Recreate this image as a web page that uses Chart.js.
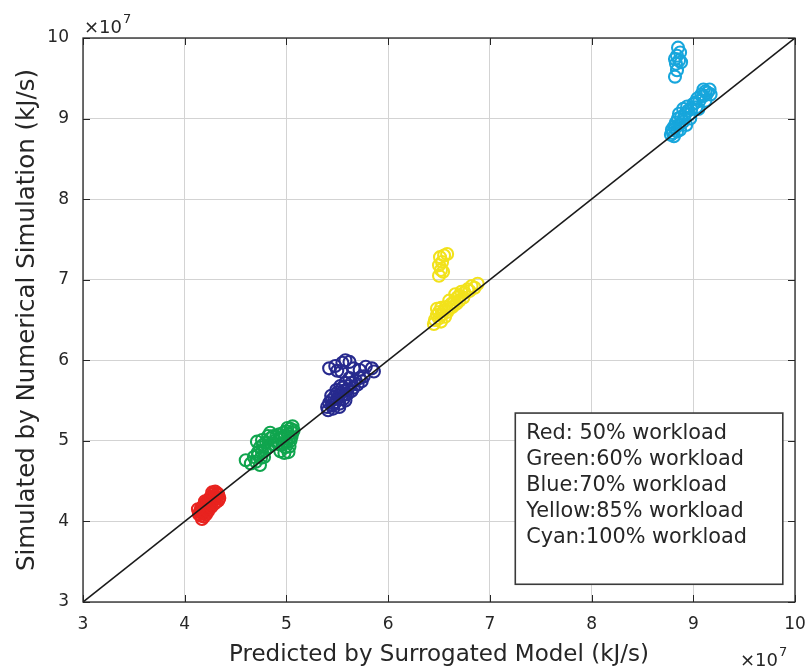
<!DOCTYPE html>
<html>
<head>
<meta charset="utf-8">
<script src="https://cdn.jsdelivr.net/npm/chart.js@4.4.1/dist/chart.umd.min.js"></script>
<style>
  html, body { margin: 0; padding: 0; background: #ffffff; }
  #wrap { width: 809px; height: 671px; }
</style>
</head>
<body>
<div id="wrap"><canvas id="c" width="809" height="671"></canvas></div>
<script>
// Values are in units of 10^7 kJ/s: [predicted, simulated]
const redPoints = [
  [4.16,4.07],[4.17,4.10],[4.15,4.12],[4.18,4.14],[4.16,4.16],[4.19,4.12],[4.20,4.17],[4.18,4.19],
  [4.21,4.15],[4.22,4.20],[4.20,4.22],[4.23,4.18],[4.24,4.23],[4.22,4.25],[4.25,4.21],[4.26,4.26],
  [4.24,4.28],[4.27,4.24],[4.28,4.29],[4.26,4.31],[4.29,4.27],[4.30,4.32],[4.28,4.34],[4.31,4.30],
  [4.32,4.35],[4.30,4.37],[4.33,4.33],[4.31,4.24],[4.33,4.26],[4.29,4.22],[4.19,4.06],[4.21,4.09],
  [4.14,4.09],[4.17,4.03],[4.23,4.13],[4.26,4.18],[4.34,4.29],[4.27,4.36],[4.13,4.15],[4.20,4.25]
];
const greenPoints = [
  [4.60,4.76],[4.65,4.72],[4.70,4.74],[4.68,4.80],[4.72,4.86],[4.75,4.79],[4.74,4.70],
  [4.71,4.99],[4.74,4.92],[4.77,4.95],[4.76,5.01],[4.80,4.98],[4.82,4.92],[4.84,5.03],
  [4.84,5.10],[4.87,5.06],[4.82,5.06],[4.89,5.00],[4.79,4.88],[4.72,4.82],[4.76,4.86],
  [4.94,4.87],[4.98,4.85],[5.02,4.86],[4.96,4.95],[5.00,4.98],[5.04,5.00],[4.98,5.05],
  [5.02,5.08],[5.06,5.10],[5.00,5.12],[5.04,5.15],[5.06,5.18],[4.95,5.02],[5.05,5.05],
  [4.92,4.96],[5.01,5.16],[4.97,5.10],[4.93,5.08],[5.03,4.93],[4.99,4.92],[4.90,5.05],
  [4.86,4.96],[4.78,4.80],[5.07,5.13],[5.02,5.02]
];
const bluePoints = [
  [5.42,5.90],[5.48,5.93],[5.50,5.87],[5.55,5.97],[5.58,6.00],[5.62,5.98],[5.54,5.86],
  [5.66,5.90],[5.72,5.88],[5.78,5.92],[5.84,5.90],[5.86,5.86],
  [5.40,5.42],[5.42,5.47],[5.45,5.44],[5.44,5.50],[5.48,5.48],[5.47,5.54],[5.50,5.52],
  [5.52,5.57],[5.50,5.60],[5.54,5.55],[5.56,5.62],[5.58,5.58],[5.55,5.66],[5.60,5.64],
  [5.62,5.68],[5.58,5.72],[5.64,5.72],[5.66,5.66],[5.68,5.75],[5.70,5.70],[5.72,5.78],
  [5.74,5.74],[5.76,5.80],[5.62,5.78],[5.46,5.40],[5.52,5.46],[5.58,5.50],
  [5.41,5.38],[5.44,5.56],[5.49,5.63],[5.53,5.68],[5.56,5.52],[5.60,5.58],[5.64,5.62],
  [5.52,5.42],[5.47,5.46]
];
const yellowPoints = [
  [6.50,7.05],[6.52,7.12],[6.50,7.18],[6.53,7.22],[6.51,7.28],[6.55,7.30],[6.58,7.32],[6.54,7.10],
  [6.46,6.50],[6.48,6.56],[6.50,6.52],[6.50,6.60],[6.53,6.57],[6.55,6.62],[6.52,6.65],
  [6.57,6.66],[6.60,6.64],[6.62,6.70],[6.60,6.74],[6.65,6.72],[6.68,6.78],[6.66,6.82],
  [6.70,6.80],[6.72,6.85],[6.75,6.84],[6.78,6.88],[6.80,6.86],[6.82,6.92],[6.85,6.90],
  [6.88,6.95],[6.70,6.74],[6.56,6.54],[6.48,6.64],[6.45,6.45],[6.52,6.48],[6.58,6.60],
  [6.63,6.66],[6.67,6.70],[6.74,6.78]
];
const cyanPoints = [
  [8.82,9.52],[8.84,9.60],[8.83,9.68],[8.86,9.72],[8.84,9.78],[8.87,9.82],[8.85,9.88],[8.82,9.74],[8.88,9.70],
  [8.80,8.82],[8.82,8.88],[8.84,8.84],[8.83,8.95],[8.86,8.92],[8.85,9.00],[8.88,9.02],[8.90,8.96],
  [8.92,9.06],[8.95,9.10],[8.94,9.15],[8.98,9.12],[9.00,9.18],[9.02,9.20],[9.04,9.25],[9.06,9.22],
  [9.08,9.30],[9.10,9.28],[9.12,9.34],[9.14,9.32],[9.10,9.36],[8.96,9.05],[8.81,8.90],
  [8.78,8.80],[8.81,8.78],[8.87,8.86],[8.91,9.02],[9.16,9.36],[9.17,9.30],[9.03,9.14],[8.79,8.86],
  [8.86,9.06],[8.90,9.12],[8.97,9.00],[9.05,9.12],[9.12,9.22],[8.93,8.92]
];
const identityLine = [[3,3],[10,10]];
const axisTicks = [3,4,5,6,7,8,9,10];
const legendLines = [
  'Red: 50% workload',
  'Green:60% workload',
  'Blue:70% workload',
  'Yellow:85% workload',
  'Cyan:100% workload'
];
const xTitle = 'Predicted by Surrogated Model (kJ/s)';
const yTitle = 'Simulated by Numerical Simulation (kJ/s)';

const FONT = '"DejaVu Sans", "Liberation Sans", sans-serif';
const TEXT = '#262626';

const toXY = arr => arr.map(p => ({x: p[0], y: p[1]}));

function scatterSet(label, pts, color) {
  return {
    type: 'scatter', label, data: toXY(pts),
    borderColor: color, backgroundColor: 'rgba(0,0,0,0)',
    pointStyle: 'circle', pointRadius: 6, pointBorderWidth: 2.1,
    pointHoverRadius: 6
  };
}

// Box outline, inward tick marks, exponent labels and the text legend
const decorations = {
  id: 'decorations',
  afterDraw(chart) {
    const {ctx, chartArea: a, scales} = chart;
    ctx.save();
    // inward tick marks
    ctx.strokeStyle = '#262626';
    ctx.lineWidth = 1;
    axisTicks.forEach(v => {
      const px = Math.round(scales.x.getPixelForValue(v)) + 0.5;
      ctx.beginPath(); ctx.moveTo(px, a.bottom); ctx.lineTo(px, a.bottom - 7); ctx.stroke();
      ctx.beginPath(); ctx.moveTo(px, a.top); ctx.lineTo(px, a.top + 7); ctx.stroke();
      const py = Math.round(scales.y.getPixelForValue(v)) + 0.5;
      ctx.beginPath(); ctx.moveTo(a.left, py); ctx.lineTo(a.left + 7, py); ctx.stroke();
      ctx.beginPath(); ctx.moveTo(a.right, py); ctx.lineTo(a.right - 7, py); ctx.stroke();
    });
    // box
    ctx.strokeStyle = '#262626';
    ctx.lineWidth = 1.3;
    ctx.strokeRect(a.left, a.top, a.right - a.left, a.bottom - a.top);

    // exponent labels
    ctx.fillStyle = TEXT;
    ctx.textBaseline = 'alphabetic';
    ctx.textAlign = 'left';
    const expLabel = (x, y) => {
      ctx.font = '18px ' + FONT;
      ctx.fillText('\u00d710', x, y);
      const w = ctx.measureText('\u00d710').width;
      ctx.font = '13px ' + FONT;
      ctx.fillText('7', x + w + 1, y - 10);
    };
    expLabel(a.left + 1, a.top - 5);
    expLabel(a.right - 55, 666);

    // legend box
    const bx = scales.x.getPixelForValue(7.25), bxr = scales.x.getPixelForValue(9.88);
    const by = scales.y.getPixelForValue(5.345), byb = scales.y.getPixelForValue(3.22);
    ctx.fillStyle = '#ffffff';
    ctx.fillRect(bx, by, bxr - bx, byb - by);
    ctx.strokeStyle = '#3a3a3a';
    ctx.lineWidth = 1.6;
    ctx.strokeRect(bx, by, bxr - bx, byb - by);
    ctx.fillStyle = TEXT;
    ctx.font = '20.8px ' + FONT;
    ctx.textBaseline = 'middle';
    legendLines.forEach((t, i) => ctx.fillText(t, bx + 11, by + 21 + i * 26));
    ctx.restore();
  }
};

new Chart(document.getElementById('c'), {
  data: {
    datasets: [
      {
        type: 'line', label: 'y = x', data: toXY(identityLine),
        borderColor: '#1a1a1a', borderWidth: 1.6, pointRadius: 0, fill: false, tension: 0
      },
      scatterSet('Red', redPoints, '#e8231f'),
      scatterSet('Green', greenPoints, '#10a54e'),
      scatterSet('Blue', bluePoints, '#272a8e'),
      scatterSet('Yellow', yellowPoints, '#f2e21c'),
      scatterSet('Cyan', cyanPoints, '#17a6dc')
    ]
  },
  options: {
    responsive: false,
    animation: false,
    events: [],
    layout: { padding: { left: 0, top: 38, right: 14, bottom: 0 } },
    plugins: { legend: { display: false }, tooltip: { enabled: false } },
    scales: {
      x: {
        type: 'linear', min: 3, max: 10,
        afterBuildTicks: s => { s.ticks = axisTicks.map(v => ({value: v})); },
        afterFit: s => { s.height = 69; s.paddingLeft = 0; s.paddingRight = 0; },
        grid: { color: '#d3d3d3', lineWidth: 1, drawTicks: false },
        border: { display: false },
        ticks: { padding: 12, color: TEXT, font: { family: FONT, size: 17 }, maxRotation: 0 },
        title: { display: true, text: xTitle, color: TEXT, font: { family: FONT, size: 23 }, padding: { top: 0, bottom: 2 } }
      },
      y: {
        type: 'linear', min: 3, max: 10,
        afterBuildTicks: s => { s.ticks = axisTicks.map(v => ({value: v})); },
        afterFit: s => { s.width = 83; s.paddingTop = 0; s.paddingBottom = 0; },
        grid: { color: '#d3d3d3', lineWidth: 1, drawTicks: false },
        border: { display: false },
        ticks: { padding: 14, color: TEXT, font: { family: FONT, size: 17 } },
        title: { display: true, text: yTitle, color: TEXT, font: { family: FONT, size: 24.5 }, padding: { top: 13, bottom: 0 } }
      }
    }
  },
  plugins: [decorations]
});
</script>
</body>
</html>
